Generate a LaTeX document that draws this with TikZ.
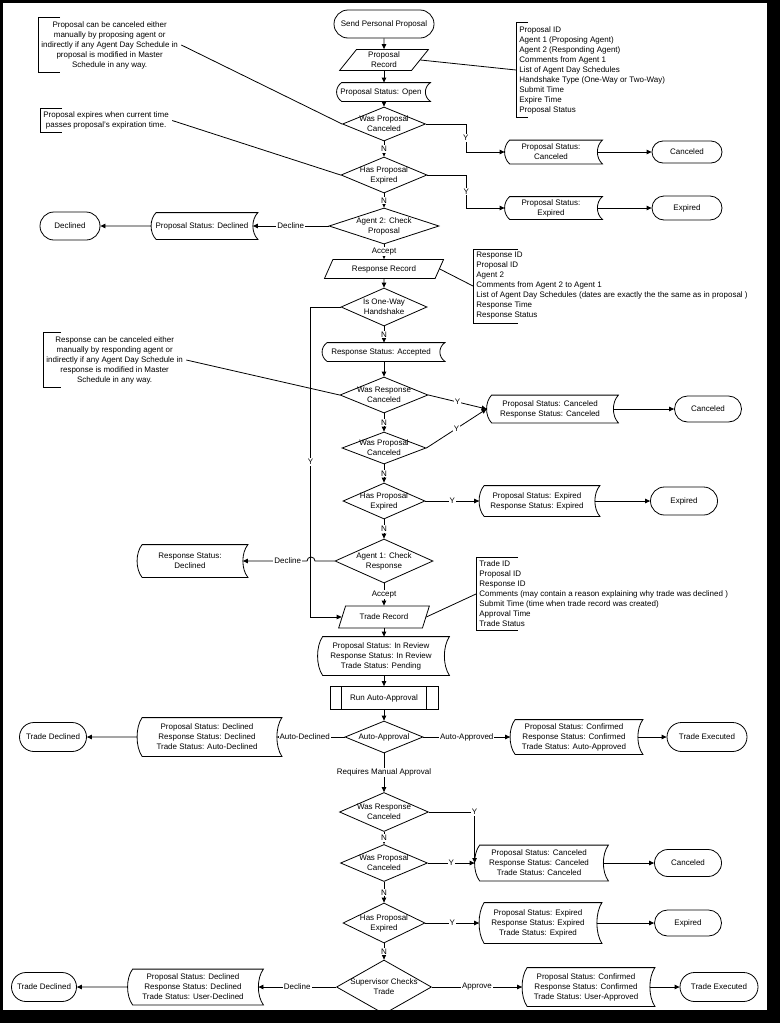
\documentclass[tikz,border=0pt]{standalone}
\usepackage{fontspec}
\setmainfont{Liberation Sans}
\usepackage{tikz}
\usetikzlibrary{arrows.meta,shapes,calc}

\tikzstyle{term}=[rounded rectangle, draw, inner sep=0pt]
\tikzstyle{rec}=[trapezium, trapezium left angle=60, trapezium right angle=120, trapezium stretches=true, draw, align=center, inner sep=1pt]
\tikzstyle{dia}=[diamond, draw, inner sep=0pt]
\tikzstyle{dlab}=[align=center, inner sep=0pt]
\tikzstyle{stat}=[align=center, inner sep=0pt]
\tikzstyle{proc}=[rectangle, draw, inner sep=0pt]
\tikzstyle{note}=[anchor=west, inner xsep=3pt, inner ysep=3pt]
\tikzstyle{lab}=[fill=white, inner sep=1pt]
\tikzstyle{arr}=[-{Triangle[length=5pt,width=4.5pt]}]

\newcommand{\storedshape}[1]{%
  \draw ([xshift=5]#1.north west)
    .. controls ($(#1.north west)!.25!(#1.south west)+(-1.7,0)$) and ($(#1.north west)!.75!(#1.south west)+(-1.7,0)$) .. ([xshift=5]#1.south west)
    -- ([xshift=5]#1.south east)
    .. controls ($(#1.north east)!.75!(#1.south east)+(-1.7,0)$) and ($(#1.north east)!.25!(#1.south east)+(-1.7,0)$) .. ([xshift=5]#1.north east)
    -- cycle;}
\newcommand{\bracketnote}[2]{%
  \draw ([xshift=#2]#1.north west) -- (#1.north west) -- (#1.south west) -- ([xshift=#2]#1.south west);}

\begin{document}
\begin{tikzpicture}[x=1pt, y=1pt, line width=0.8pt]
\tikzstyle{every node}+=[font=\fontsize{8}{10}\selectfont]
\useasboundingbox (0,0) rectangle (780,-1023);
\fill[black] (0,0) rectangle (780,-1023);
\fill[white] (3,-3) rectangle (767,-1010);

\node[term, minimum width=100, minimum height=28] (start) at (384,-24) {Send Personal Proposal};
\node[rec, minimum width=89, minimum height=21] (precord) at (384,-60) {Proposal\\Record};
\node[stat, minimum width=88, minimum height=18] (popen) at (381,-92) {Proposal Status: Open};
\node[dia, minimum width=83, minimum height=34, label={[dlab]center:{Was Proposal\\Canceled}}] (d1) at (384,-124) {};
\node[dia, minimum width=86, minimum height=36, label={[dlab]center:{Has Proposal\\Expired}}] (d2) at (384,-175) {};
\node[dia, minimum width=110, minimum height=36, label={[dlab]center:{Agent 2: Check\\Proposal}}] (d3) at (384,-226) {};
\node[rec, minimum width=120, minimum height=19] (rrec) at (384,-269) {Response Record};
\node[dia, minimum width=86, minimum height=38, label={[dlab]center:{Is One-Way\\Handshake}}] (d4) at (384,-307) {};
\node[stat, minimum width=117, minimum height=18] (raccept) at (381,-352) {Response Status: Accepted};
\node[dia, minimum width=88, minimum height=36, label={[dlab]center:{Was Response\\Canceled}}] (d5) at (384,-395) {};
\node[dia, minimum width=84, minimum height=32, label={[dlab]center:{Was Proposal\\Canceled}}] (d6) at (384,-448) {};
\node[dia, minimum width=82, minimum height=36, label={[dlab]center:{Has Proposal\\Expired}}] (d7) at (384,-501) {};
\node[dia, minimum width=98, minimum height=44, label={[dlab]center:{Agent 1: Check\\Response}}] (d8) at (384,-561) {};
\node[rec, minimum width=91, minimum height=22] (trec) at (384,-617) {Trade Record};
\node[stat, minimum width=126, minimum height=38] (trpend) at (381,-656) {Proposal Status: In Review\\Response Status: In Review\\Trade Status: Pending};
\node[proc, minimum width=108, minimum height=23] (runauto) at (384,-698) {Run Auto-Approval};
\node[dia, minimum width=78, minimum height=32, label={[dlab]center:{Auto-Approval}}] (d9) at (384,-737) {};
\node[dia, minimum width=89, minimum height=39, label={[dlab]center:{Was Response\\Canceled}}] (d10) at (384,-812) {};
\node[dia, minimum width=87, minimum height=37, label={[dlab]center:{Was Proposal\\Canceled}}] (d11) at (384,-863) {};
\node[dia, minimum width=82, minimum height=40, label={[dlab]center:{Has Proposal\\Expired}}] (d12) at (384,-923) {};
\node[dia, minimum width=95, minimum height=54, label={[dlab]center:{Supervisor Checks\\Trade}}] (d13) at (384,-987) {};

\node[stat, minimum width=92, minimum height=23] (pcanc) at (551,-152) {Proposal Status:\\Canceled};
\node[term, minimum width=70, minimum height=22] (cterm1) at (687,-152) {Canceled};
\node[stat, minimum width=92, minimum height=22] (pexp) at (551,-208) {Proposal Status:\\Expired};
\node[term, minimum width=70, minimum height=24] (eterm1) at (687,-208) {Expired};
\node[stat, minimum width=101, minimum height=26] (pdecl) at (202,-226) {Proposal Status: Declined};
\node[term, minimum width=60, minimum height=28] (dterm) at (70,-226) {Declined};
\node[stat, minimum width=126, minimum height=27] (pcc) at (550,-409) {Proposal Status: Canceled\\Response Status: Canceled};
\node[term, minimum width=67, minimum height=26] (cterm2) at (708,-409) {Canceled};
\node[stat, minimum width=115, minimum height=30] (pce) at (537,-501) {Proposal Status: Expired\\Response Status: Expired};
\node[term, minimum width=67, minimum height=28] (eterm2) at (684,-501) {Expired};
\node[stat, minimum width=105, minimum height=32] (rdecl) at (190,-561) {Response Status:\\Declined};
\node[stat, minimum width=139, minimum height=38] (padecl) at (207,-737) {Proposal Status: Declined\\Response Status: Declined\\Trade Status: Auto-Declined};
\node[term, minimum width=67, minimum height=29] (tdterm1) at (53,-737) {Trade Declined};
\node[stat, minimum width=127, minimum height=34] (paappr) at (574,-737) {Proposal Status: Confirmed\\Response Status: Confirmed\\Trade Status: Auto-Approved};
\node[term, minimum width=80, minimum height=29] (texterm1) at (707,-737) {Trade Executed};
\node[stat, minimum width=128, minimum height=35] (pccc) at (539,-863) {Proposal Status: Canceled\\Response Status: Canceled\\Trade Status: Canceled};
\node[term, minimum width=67, minimum height=27] (cterm3) at (688,-863) {Canceled};
\node[stat, minimum width=117, minimum height=40] (pcec) at (538,-923) {Proposal Status: Expired\\Response Status: Expired\\Trade Status: Expired};
\node[term, minimum width=67, minimum height=26] (eterm3) at (688,-923) {Expired};
\node[stat, minimum width=127, minimum height=38] (pcua) at (586,-987) {Proposal Status: Confirmed\\Response Status: Confirmed\\Trade Status: User-Approved};
\node[term, minimum width=78, minimum height=29] (texterm2) at (719,-987) {Trade Executed};
\node[stat, minimum width=130, minimum height=35] (pudecl) at (193,-987) {Proposal Status: Declined\\Response Status: Declined\\Trade Status: User-Declined};
\node[term, minimum width=65, minimum height=29] (tdterm2) at (44,-987) {Trade Declined};

\node[note, align=center] (cnote1) at (38,-45) {Proposal can be canceled either\\manually by proposing agent or\\indirectly if any Agent Day Schedule in\\proposal is modified in Master\\Schedule in any way.};
\node[note, align=center] (enote) at (40,-120.5) {Proposal expires when current time\\passes proposal's expiration time.};
\node[note, align=center] (cnote2) at (43,-360) {Response can be canceled either\\manually by responding agent or\\indirectly if any Agent Day Schedule in\\response is modified in Master\\Schedule in any way.};
\node[note, align=left] (pnote) at (516,-70) {Proposal ID\\Agent 1 (Proposing Agent)\\Agent 2 (Responding Agent)\\Comments from Agent 1\\List of Agent Day Schedules\\Handshake Type (One-Way or Two-Way)\\Submit Time\\Expire Time\\Proposal Status};
\node[note, align=left] (rnote) at (473,-286) {Response ID\\Proposal ID\\Agent 2\\Comments from Agent 2 to Agent 1\\List of Agent Day Schedules (dates are exactly the the same as in proposal )\\Response Time\\Response Status};
\node[note, align=left] (tnote) at (476,-594) {Trade ID\\Proposal ID\\Response ID\\Comments (may contain a reason explaining why trade was declined )\\Submit Time (time when trade record was created)\\Approval Time\\Trade Status};

\foreach \s in {popen,pcanc,pexp,pdecl,raccept,pcc,pce,rdecl,trpend,padecl,paappr,pccc,pcec,pcua,pudecl} {\storedshape{\s}}
\draw ([xshift=12]runauto.north west) -- ([xshift=12]runauto.south west);
\draw ([xshift=-12]runauto.north east) -- ([xshift=-12]runauto.south east);
\bracketnote{cnote1}{22}
\bracketnote{enote}{22}
\bracketnote{cnote2}{18}
\bracketnote{pnote}{12}
\bracketnote{rnote}{45}
\bracketnote{tnote}{42}

\draw[arr] (start) -- (precord);
\draw[arr] (precord.south) -- (precord.south |- popen.north);
\draw[arr] (popen.south -| d1.north) -- (d1.north);
\draw[arr] (d1) -- node[lab]{N} (d2);
\draw[arr] (d2) -- node[lab]{N} (d3);
\draw[arr] (d3) -- node[lab]{Accept} (rrec);
\draw[arr] (rrec) -- (d4);
\draw[arr] (d4.south) -- node[lab]{N} (d4.south |- raccept.north);
\draw[arr] (raccept.south -| d5.north) -- (d5.north);
\draw[arr] (d5) -- node[lab]{N} (d6);
\draw[arr] (d6) -- node[lab]{N} (d7);
\draw[arr] (d7) -- node[lab]{N} (d8);
\draw[arr] (d8) -- node[lab]{Accept} (trec);
\draw[arr] (trec.south) -- (trec.south |- trpend.north);
\draw[arr] (trpend.south -| runauto.north) -- (runauto.north);
\draw[arr] (runauto) -- (d9);
\draw[arr] (d9) -- node[lab]{Requires Manual Approval} (d10);
\draw[arr] (d10) -- node[lab]{N} (d11);
\draw[arr] (d11) -- node[lab]{N} (d12);
\draw[arr] (d12) -- node[lab]{N} (d13);

\draw (precord.east) -- (pnote.west);
\draw (rrec.east) -- (rnote.west);
\draw (trec.east) -- (tnote.west);
\draw (cnote1.east) -- (d1.west);
\draw (enote.east) -- (d2.west);
\draw (cnote2.east) -- (d5.west);

\draw[arr] (d1.east) -- ++(40,0) |- node[lab,pos=.25]{Y} (pcanc.west);
\draw[arr] (pcanc) -- (cterm1);
\draw[arr] (d2.east) -- ++(39,0) |- node[lab,pos=.25]{Y} (pexp.west);
\draw[arr] (pexp) -- (eterm1);
\draw[arr] (d3) -- node[lab]{Decline} (pdecl);
\draw[arr] (pdecl) -- (dterm);
\draw[arr] (d4.west) -- ++(-30,0) |- node[lab,pos=.25]{Y} (trec.west);
\draw[arr] (d5.east) -- node[lab]{Y} (pcc.west);
\draw[arr] (d6.east) -- node[lab]{Y} (pcc.west);
\draw[arr] (pcc) -- (cterm2);
\draw[arr] (d7) -- node[lab]{Y} (pce);
\draw[arr] (pce) -- (eterm2);
\draw[arr] (d8.west) -- (315,-561) arc[start angle=0, end angle=180, radius=4] -- node[lab,pos=.3]{Decline} (rdecl.east);
\draw[arr] (d9) -- node[lab,pos=.59]{Auto-Declined} (padecl);
\draw[arr] (padecl) -- (tdterm1);
\draw[arr] (d9) -- node[lab]{Auto-Approved} (paappr);
\draw[arr] (paappr) -- (texterm1);
\draw[arr] (d10.east) -| node[lab,pos=.5]{Y} (pccc.west);
\draw[arr] (d11) -- node[lab]{Y} (pccc);
\draw[arr] (pccc) -- (cterm3);
\draw[arr] (d12) -- node[lab]{Y} (pcec);
\draw[arr] (pcec) -- (eterm3);
\draw[arr] (d13) -- node[lab]{Approve} (pcua);
\draw[arr] (pcua) -- (texterm2);
\draw[arr] (d13) -- node[lab]{Decline} (pudecl);
\draw[arr] (pudecl) -- (tdterm2);
\end{tikzpicture}
\end{document}
